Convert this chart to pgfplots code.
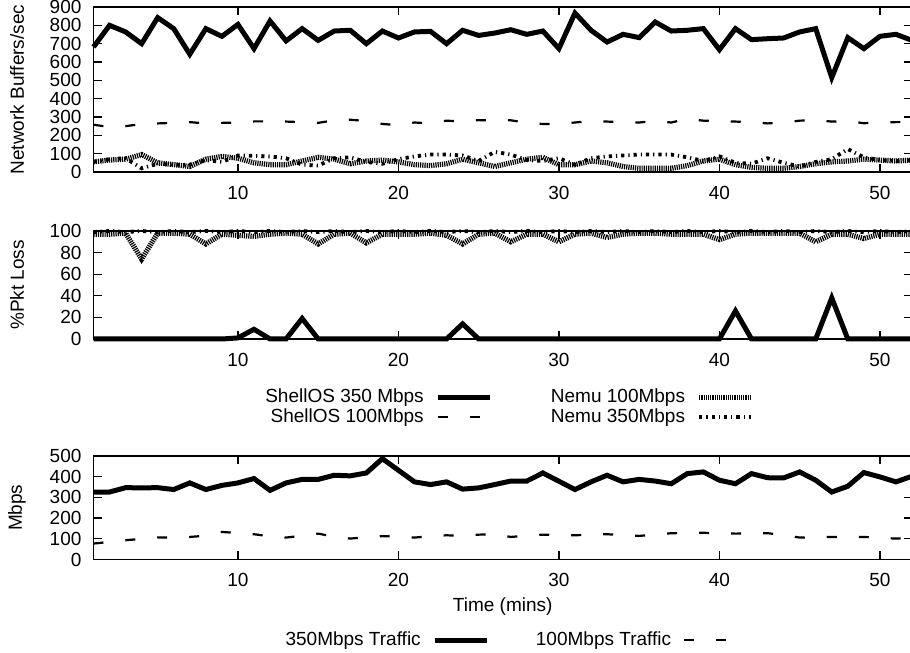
\documentclass[border=0pt]{standalone}
\usepackage{fontspec}
\setmainfont{Liberation Sans}
\usepackage{pgfplots}
\usepackage{pgfplotstable}
\pgfplotsset{compat=1.18}
\newcommand{\fs}{\fontsize{9.5}{11}\selectfont}

\pgfplotstableread{
x s350 s100 n100 n350
1 682 258 55 55
2 800 245 65 70
3 764 250 70 75
4 700 262 95 20
5 842 265 50 45
6 782 268 40 40
7 642 272 30 40
8 782 265 70 65
9 740 268 85 55
10 805 270 75 90
11 673 276 50 88
12 824 276 40 85
13 715 275 40 75
14 782 272 60 40
15 718 268 80 35
16 769 282 70 75
17 773 285 45 80
18 700 278 60 55
19 769 262 65 45
20 731 255 55 70
21 764 270 40 85
22 767 265 35 95
23 700 280 45 95
24 773 275 70 90
25 745 283 50 60
26 758 280 30 110
27 776 282 50 95
28 751 268 70 65
29 769 262 80 60
30 673 262 40 75
31 867 270 40 40
32 773 278 60 75
33 709 275 50 85
34 751 272 30 90
35 733 270 20 95
36 818 278 20 95
37 769 270 20 95
38 773 290 35 80
39 782 280 60 60
40 667 278 70 85
41 782 275 40 50
42 722 272 25 45
43 727 265 20 75
44 731 270 20 50
45 764 280 30 30
46 782 283 45 55
47 515 275 55 70
48 733 278 60 125
49 673 266 70 80
50 740 270 65 65
51 751 272 60 60
52 718 272 65 65
}\buffers

\pgfplotstableread{
x s350 s100 n100 n350
1 0 0 97 99
2 0 0 97 100
3 0 0 98 99
4 0 0 74 100
5 0 0 98 99
6 0 0 98 100
7 0 0 97 99
8 0 0 88 100
9 0 0 97 99
10 1 0 96 100
11 9 0 95 99
12 0 0 97 100
13 0 0 98 99
14 19 0 97 100
15 0 0 88 99
16 0 0 97 100
17 0 0 98 99
18 0 0 89 100
19 0 0 97 99
20 0 0 97 100
21 0 0 97 99
22 0 0 98 100
23 0 0 96 99
24 14 0 88 100
25 0 0 97 99
26 0 0 98 100
27 0 0 90 99
28 0 0 97 100
29 0 0 97 99
30 0 0 90 100
31 0 0 97 99
32 0 0 98 100
33 0 0 94 99
34 0 0 97 100
35 0 0 98 99
36 0 0 98 100
37 0 0 97 99
38 0 0 97 100
39 0 0 97 99
40 0 0 92 100
41 26 0 97 99
42 0 0 98 100
43 0 0 98 99
44 0 0 98 100
45 0 0 98 99
46 0 0 90 100
47 38 0 97 99
48 0 0 97 100
49 0 0 93 99
50 0 0 97 100
51 0 0 97 99
52 0 0 97 100
}\loss

\pgfplotstableread{
x t350 t100
1 326 77
2 326 85
3 347 93
4 346 100
5 347 106
6 338 107
7 370 109
8 338 115
9 358 133
10 370 128
11 391 122
12 334 112
13 370 106
14 387 115
15 387 125
16 407 110
17 404 101
18 418 108
19 487 113
20 431 110
21 375 106
22 362 112
23 375 117
24 340 114
25 346 120
26 362 122
27 379 109
28 379 115
29 418 120
30 378 118
31 338 117
32 375 120
33 407 122
34 375 118
35 387 114
36 379 120
37 366 127
38 415 128
39 423 129
40 383 127
41 366 125
42 415 126
43 395 127
44 394 118
45 423 106
46 383 108
47 326 109
48 354 109
49 420 109
50 399 105
51 375 101
52 402 105
}\traffic

\pgfplotsset{
  myaxis/.style={
    scale only axis, width=409.25pt,
    xmin=1, xmax=52, xtick={10,20,30,40,50},
    major tick length=4pt,
    tick style={line width=0.6pt, black},
    axis line style={line width=0.8pt},
    tick label style={font=\fs},
    label style={font=\fs},
    /pgf/number format/assume math mode=true,
    xticklabel style={yshift=-3.5pt},
    yticklabel style={xshift=-2.5pt},
    ylabel style={at={(axis description cs:-0.0935,0.5)}, anchor=center},
    clip=false,
    legend image code/.code={\draw[##1] (0pt,0pt) -- (26pt,0pt);},
    legend plot pos=right,
    legend cell align=right,
    legend columns=2,
  },
  shellA/.style={black, line width=2.5pt},
  shellB/.style={black, line width=1.1pt, dash pattern=on 5pt off 11pt},
  nemuA/.style={black, line width=2.6pt, dash pattern=on 0.6pt off 0.5pt},
  nemuB/.style={black, line width=1.9pt, dash pattern=on 1.6pt off 2pt on 0.6pt off 2pt},
}

\begin{document}
\begin{tikzpicture}
\useasboundingbox (0,0) rectangle (455pt,326.5pt);

% top panel
\begin{axis}[myaxis, at={(46.75pt,240.5pt)}, anchor=south west,
  height=82.5pt, ymin=0, ymax=900, ytick={0,100,...,900},
  ylabel={Network Buffers/sec}]
\addplot[nemuA] table[x=x,y=n100] {\buffers};
\addplot[nemuB] table[x=x,y=n350] {\buffers};
\addplot[shellB] table[x=x,y=s100] {\buffers};
\addplot[shellA] table[x=x,y=s350] {\buffers};
\end{axis}

% middle panel
\begin{axis}[myaxis, at={(46.75pt,157pt)}, anchor=south west,
  height=54pt, ymin=0, ymax=100, ytick={0,20,...,100},
  ylabel={\%Pkt Loss},
  legend style={draw=none, fill=none, font=\fs,
    at={(axis description cs:0.508,-0.634)}, anchor=center,
    nodes={inner sep=0.3pt, text height=7pt, text depth=2pt},
    row sep=0pt,
    /tikz/every odd column/.style={column sep=5.5pt},
    /tikz/every even column/.style={column sep=29pt}}]
\addplot[shellA] table[x=x,y=s350] {\loss};
\addlegendentry{ShellOS 350 Mbps}
\addplot[nemuA] table[x=x,y=n100] {\loss};
\addlegendentry{Nemu 100Mbps}
\addplot[shellB] table[x=x,y=s100] {\loss};
\addlegendentry{ShellOS 100Mbps}
\addplot[nemuB] table[x=x,y=n350] {\loss};
\addlegendentry{Nemu 350Mbps}
\end{axis}

% bottom panel
\begin{axis}[myaxis, at={(46.75pt,46.75pt)}, anchor=south west,
  height=51.75pt, ymin=0, ymax=500, ytick={0,100,...,500},
  ylabel={Mbps}, xlabel={Time (mins)},
  xlabel style={at={(axis description cs:0.5,-0.459)}, anchor=center},
  legend style={draw=none, fill=none, font=\fs,
    at={(axis description cs:0.51,-0.778)}, anchor=center,
    nodes={inner sep=0.3pt, text height=7pt, text depth=2pt},
    /tikz/every odd column/.style={column sep=5.5pt},
    /tikz/every even column/.style={column sep=23pt}}]
\addplot[shellA] table[x=x,y=t350] {\traffic};
\addlegendentry{350Mbps Traffic}
\addplot[shellB] table[x=x,y=t100] {\traffic};
\addlegendentry{100Mbps Traffic}
\end{axis}
\end{tikzpicture}
\end{document}
